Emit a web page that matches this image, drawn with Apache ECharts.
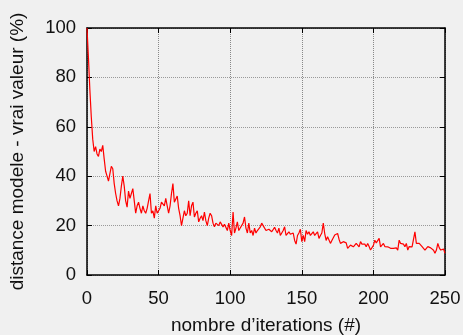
<!DOCTYPE html>
<html>
<head>
<meta charset="utf-8">
<script src="https://cdn.jsdelivr.net/npm/echarts@6/dist/echarts.min.js"></script>
<style>
  html, body { margin: 0; padding: 0; background: #f0f0f0; }
  #chart { width: 463px; height: 335px; }
</style>
</head>
<body>
<div id="chart"></div>
<script>
// distance (%) per iteration
var distance = [
  100, 88, 75, 64, 55, 50, 52, 49, 48, 51,
  50, 52.5, 47, 42, 40, 38, 41, 44, 43, 37,
  33, 30, 28, 31, 36, 40, 36, 30, 27.5, 34,
  31, 33, 35, 30, 25, 28, 29.5, 27, 25, 28,
  26, 25, 27, 30, 33, 25, 26, 23, 28, 25,
  26, 27, 29.5, 29, 28, 31, 28, 25, 28, 33,
  37, 29.5, 30, 32, 27, 24, 20, 23, 26, 24,
  25, 30, 24, 28, 29.5, 23.5, 25, 26, 21.5, 23,
  24, 22, 25.5, 22, 20, 23, 25, 24, 21, 19.5,
  21, 21.5, 20, 21.5, 21, 19.5, 20.5, 20, 18, 21,
  18, 16, 25.5, 17, 19, 21.5, 18, 19, 19, 21,
  23.5, 19, 17, 21, 17, 18, 16, 19, 17, 18,
  18, 19.5, 21, 20, 20.5, 18, 17.5, 18.5, 19.3, 17.5,
  18, 19.3, 18, 17, 19, 16, 17, 18, 19.5, 16,
  15.5, 17.5, 16.5, 16, 17, 14, 12.5, 16, 17, 18.5,
  13.5, 16, 13.5, 18, 16.5, 17.5, 16, 16.5, 17.5, 16,
  16.5, 17.5, 14.8, 16, 17, 21, 16.8, 14, 15.5, 14.8,
  12.8, 14, 13.5, 16.2, 15.5, 16.8, 14.5, 12.8, 13.5, 13.5,
  14, 13, 10.8, 11.5, 12.1, 12.5, 11.4, 12, 12.8, 12,
  11.4, 13.5, 12.5, 12.1, 12.5, 11.4, 12.8, 11.5, 10.1, 10.8,
  12, 14.1, 13, 13.5, 14.8, 11.4, 12, 12.8, 11.5, 10.8,
  11.4, 11, 10.8, 11.5, 10.8, 11.4, 11, 10.1, 14.1, 12.8,
  13.5, 12.5, 11.4, 12.8, 10.1, 11.5, 12.1, 11.4, 12, 17.5,
  12.8, 12.5, 12.8, 12.1, 11.5, 11.4, 10.1, 10.8, 11.5, 10.8,
  11, 11.4, 10, 8.8, 10.1, 12.8, 11, 10.1, 10.1, 10.5,
  8.8
];
var xTicks = [0, 50, 100, 150, 200, 250];
var yTicks = [0, 20, 40, 60, 80, 100];

var points = distance.map(function (v, i) { return [i, v]; });

var font = 'Liberation Sans, Arial, sans-serif';
var chart = echarts.init(document.getElementById('chart'));

function frameAxis(extra) {
  var base = {
    type: 'value',
    axisLine: { show: true, onZero: false, lineStyle: { color: '#000', width: 1.5 } },
    axisTick: { show: true, inside: true, length: 5, lineStyle: { color: '#000', width: 1 } },
    axisLabel: { show: false },
    splitLine: { show: false }
  };
  return Object.assign(base, extra);
}

chart.setOption({
  backgroundColor: '#f0f0f0',
  animation: false,
  grid: {
    left: 87, right: 18, top: 28, bottom: 60,
    containLabel: false,
    outerBoundsMode: 'none'
  },
  xAxis: [
    frameAxis({
      min: xTicks[0], max: xTicks[xTicks.length - 1], interval: 50,
      position: 'bottom',
      name: 'nombre d\u2019iterations (#)',
      nameLocation: 'middle',
      nameGap: 41,
      nameTextStyle: { color: '#111', fontSize: 19, fontFamily: font },
      axisLabel: { show: true, margin: 14, color: '#111', fontSize: 18.5, fontFamily: font },
      splitLine: { show: true, lineStyle: { color: '#888', type: 'dotted', width: 1 } }
    }),
    frameAxis({ min: 0, max: 250, interval: 50, position: 'top' })
  ],
  yAxis: [
    frameAxis({
      min: yTicks[0], max: yTicks[yTicks.length - 1], interval: 20,
      position: 'left',
      name: 'distance modele - vrai valeur (%)',
      nameLocation: 'middle',
      nameGap: 60,
      nameTextStyle: { color: '#111', fontSize: 19, fontFamily: font },
      axisLabel: { show: true, margin: 11, color: '#111', fontSize: 18.5, fontFamily: font },
      splitLine: { show: true, lineStyle: { color: '#999', type: 'dotted', width: 1 } }
    }),
    frameAxis({ min: 0, max: 100, interval: 20, position: 'right' })
  ],
  series: [{
    type: 'line',
    data: points,
    showSymbol: false,
    lineStyle: { color: '#ff0000', width: 1.2 },
    itemStyle: { color: '#ff0000' }
  }]
});
</script>
</body>
</html>
